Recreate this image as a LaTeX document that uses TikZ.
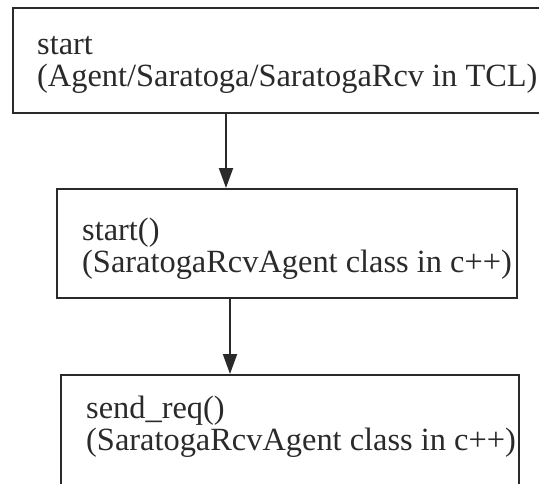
\documentclass[tikz,border=0pt]{standalone}
\usepackage{fontspec}
\setmainfont{Liberation Serif}
\usetikzlibrary{arrows.meta,positioning}

\definecolor{ink}{HTML}{2A2A2A}

\tikzset{
    block/.style={draw=ink, line width=2pt, anchor=north west, inner sep=0pt},
    note/.style={anchor=base west, align=left, inner sep=0pt, text=ink,
        font=\fontsize{32.4}{32}\selectfont},
    flow/.style={draw=ink, line width=2pt, -{Triangle[length=20pt,width=14pt]}}
}

\begin{document}
\begin{tikzpicture}[x=1pt, y=1pt]
    \useasboundingbox (0,0) rectangle (539,-483);
    \clip (0,0) rectangle (539,-483);

    % Agent in TCL
    \node[block, minimum width=560pt, minimum height=105pt] (b1) at (12,-7) {};
    \node[note] (t1) at ([xshift=25pt, yshift=-79pt]b1.north west)
        {start\\(Agent/Saratoga/SaratogaRcv in TCL)};

    % start() in c++
    \node[block, minimum width=460pt, minimum height=109pt] (b2) at (56,-188) {};
    \node[note] (t2) at ([xshift=26pt, yshift=-84pt]b2.north west)
        {start()\\(SaratogaRcvAgent class in c++)};

    % send_req() in c++
    \node[block, minimum width=458pt, minimum height=125pt] (b3) at (60,-374) {};
    \node[note] (t3) at ([xshift=26pt, yshift=-76pt]b3.north west)
        {send\_req()\\(SaratogaRcvAgent class in c++)};

    % calls
    \draw[flow] ([xshift=214pt]b1.south west) -- ([xshift=170pt]b2.north west);
    \draw[flow] ([xshift=174pt]b2.south west) -- ([xshift=170pt]b3.north west);
\end{tikzpicture}
\end{document}
